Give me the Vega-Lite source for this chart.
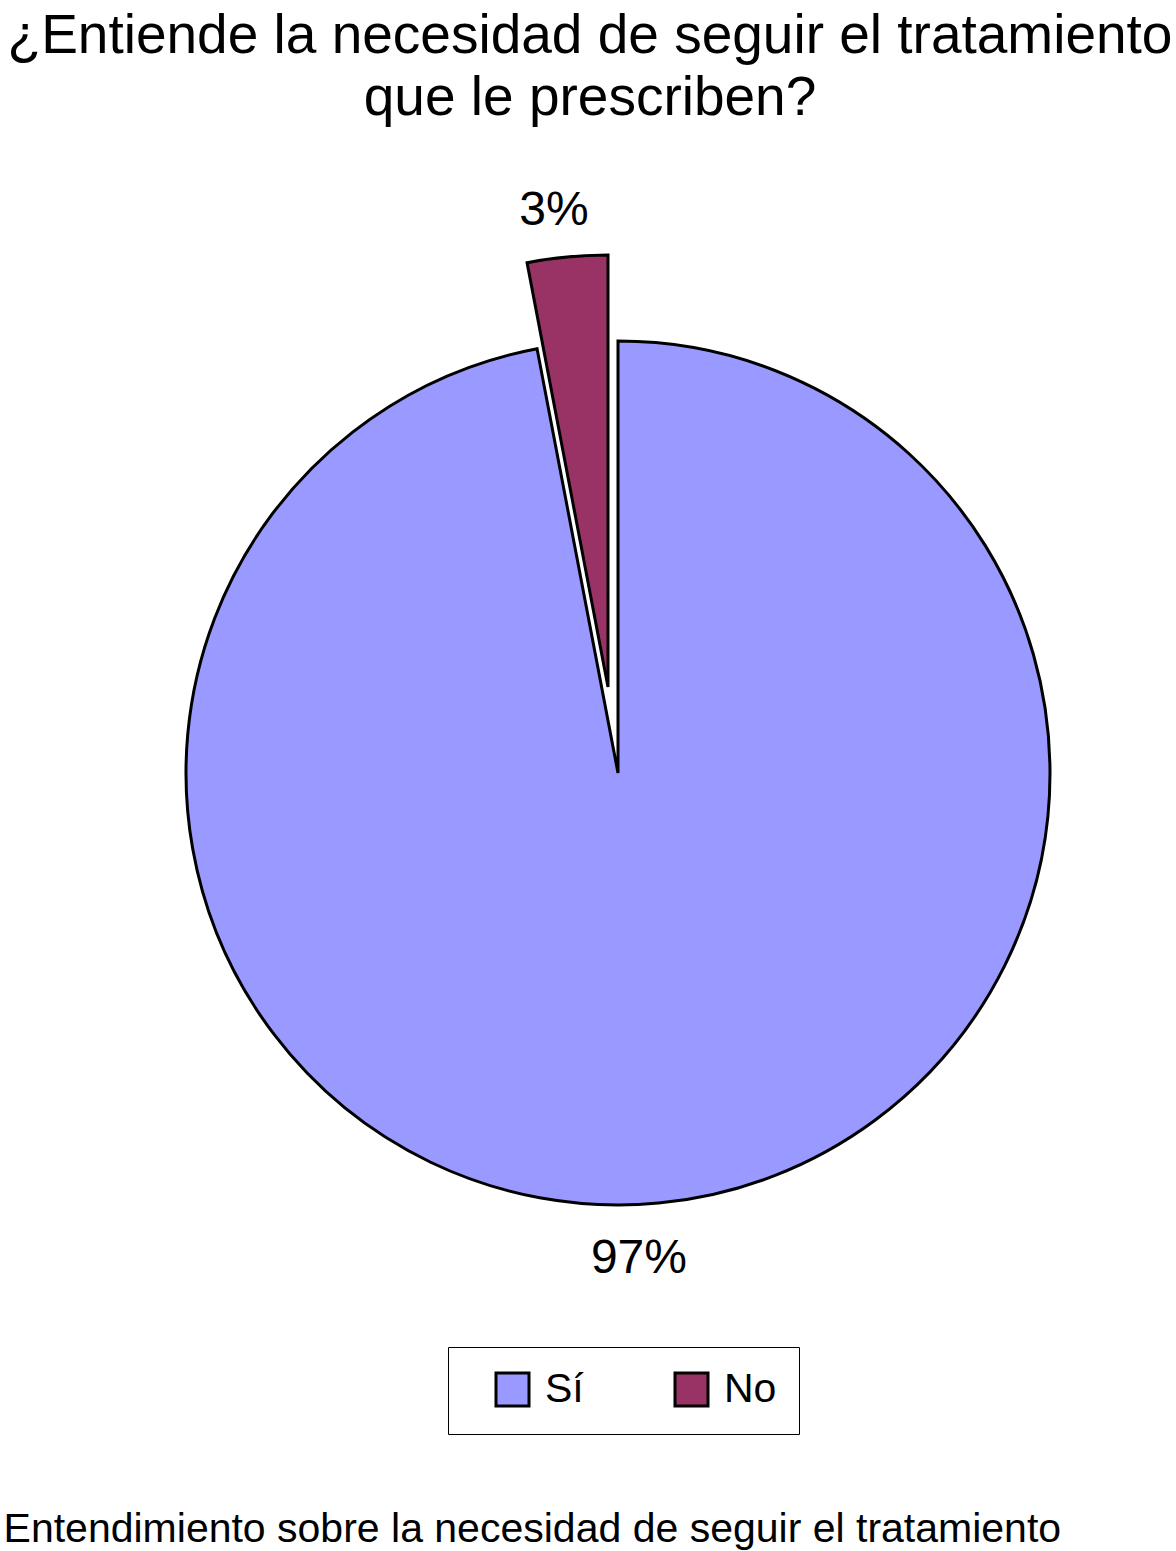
{
  "$schema": "https://vega.github.io/schema/vega-lite/v6.json",
  "padding": {"left": 3, "top": 9, "right": 0, "bottom": 5},
  "background": "white",
  "config": {"font": "Liberation Sans", "view": {"stroke": null}},
  "title": {
    "text": "Entendimiento sobre la necesidad de seguir el tratamiento",
    "orient": "bottom",
    "anchor": "start",
    "fontSize": 41,
    "fontWeight": "normal",
    "font": "Liberation Sans",
    "color": "black",
    "dx": -4,
    "offset": 75
  },
  "vconcat": [
    {
      "title": {
        "text": ["¿Entiende la necesidad de seguir el tratamiento", "que le prescriben?"],
        "fontSize": 55,
        "fontWeight": "normal",
        "font": "Liberation Sans",
        "lineHeight": 62,
        "color": "black",
        "dx": -28,
        "offset": 14
      },
      "width": 1100,
      "height": 1264,
      "data": {
        "values": [
          {"respuesta": "Sí", "porcentaje": 97, "orden": 1, "etiqueta": "97%"},
          {"respuesta": "No", "porcentaje": 3, "orden": 2, "etiqueta": "3%"}
        ]
      },
      "encoding": {
        "theta": {"field": "porcentaje", "type": "quantitative", "stack": true},
        "order": {"field": "orden", "type": "quantitative"},
        "color": {
          "field": "respuesta",
          "type": "nominal",
          "scale": {"domain": ["Sí", "No"], "range": ["#9999FF", "#993366"]},
          "legend": {
            "title": null,
            "orient": "none",
            "legendX": 380,
            "legendY": 1206,
            "direction": "horizontal",
            "symbolType": "square",
            "symbolSize": 1089,
            "symbolStrokeColor": "black",
            "symbolStrokeWidth": 3,
            "symbolOffset": 22,
            "labelOffset": 12,
            "labelFontSize": 41,
            "labelFont": "Liberation Sans",
            "labelColor": "black",
            "columnPadding": 65,
            "padding": 22,
            "strokeColor": "black",
            "fillColor": "white",
            "encode": {"legend": {"update": {"strokeWidth": {"value": 3}}}}
          }
        }
      },
      "layer": [
        {
          "mark": {"type": "arc", "outerRadius": 432, "stroke": "black", "strokeWidth": 3},
          "encoding": {
            "opacity": {"condition": {"test": "datum.respuesta === 'No'", "value": 0}, "value": 1}
          }
        },
        {
          "mark": {"type": "arc", "outerRadius": 432, "stroke": "black", "strokeWidth": 3, "xOffset": -10, "yOffset": -86},
          "encoding": {
            "opacity": {"condition": {"test": "datum.respuesta === 'Sí'", "value": 0}, "value": 1}
          }
        },
        {
          "mark": {"type": "text", "radius": 488, "fontSize": 48, "dx": -25, "font": "Liberation Sans"},
          "encoding": {
            "text": {"field": "etiqueta", "type": "nominal"},
            "color": {"value": "black"},
            "opacity": {"condition": {"test": "datum.respuesta === 'No'", "value": 0}, "value": 1}
          }
        },
        {
          "mark": {"type": "text", "radius": 478, "fontSize": 48, "dx": -9, "xOffset": -10, "yOffset": -86, "font": "Liberation Sans"},
          "encoding": {
            "text": {"field": "etiqueta", "type": "nominal"},
            "color": {"value": "black"},
            "opacity": {"condition": {"test": "datum.respuesta === 'Sí'", "value": 0}, "value": 1}
          }
        }
      ]
    }
  ]
}
